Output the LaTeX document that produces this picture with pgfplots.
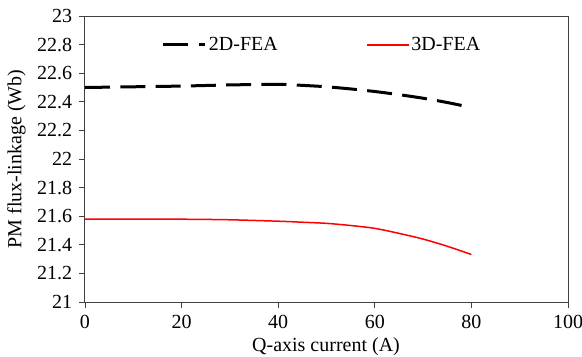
\documentclass[border=0pt]{standalone}
\usepackage{fontspec}
\setmainfont{Liberation Serif}
\usepackage{pgfplots}
\pgfplotsset{compat=1.18}
\definecolor{axisgray}{HTML}{404040}

\begin{document}
\fontsize{20bp}{24bp}\selectfont
\begin{tikzpicture}[x=1bp,y=1bp]
\useasboundingbox (-85,-54) rectangle (497,302);
\begin{axis}[
  at={(0,0)}, anchor=south west,
  width=483bp, height=286bp, scale only axis,
  xmin=0, xmax=100, ymin=21, ymax=23,
  xtick={0,20,40,60,80,100},
  ytick={21,21.2,21.4,21.6,21.8,22,22.2,22.4,22.6,22.8,23},
  yticklabel style={/pgf/number format/fixed,/pgf/number format/precision=1},
  /pgf/number format/assume math mode=true,
  tick align=outside, major tick length=6bp,
  tick style={color=axisgray, line width=0.8bp},
  axis line style={color=axisgray, line width=1bp},
  xtick pos=bottom, ytick pos=left,
  every axis x label/.style={at={(axis description cs:0.499,0)}, anchor=base, yshift=-49bp},
  every axis y label/.style={at={(axis description cs:-0.142,0.5)}, rotate=90, anchor=center},
  xlabel={Q-axis current (A)},
  ylabel={PM flux-linkage (Wb)},
  legend columns=2,
  legend cell align=left,
  legend style={draw=none, fill=none, inner sep=0pt,
    at={(axis description cs:0.159,0.8986)}, anchor=west,
    nodes={inner sep=2bp},
    /tikz/every even column/.append style={column sep=86bp}},
  legend image code/.code={\draw[#1] (0bp,0bp) -- (42bp,0bp);},
]
\addplot[black, line width=3bp, dash pattern=on 25bp off 10.3bp, smooth] coordinates {
  (0,22.500) (10,22.505) (20,22.510) (30,22.518) (40,22.522) (45,22.515)
  (50,22.505) (55,22.490) (60,22.472) (65,22.450) (70,22.425) (75,22.395)
  (80,22.360)
};
\addlegendentry{2D-FEA}
\addplot[red, line width=1.5bp, smooth] coordinates {
  (0,21.580) (10,21.580) (20,21.579) (30,21.575) (40,21.565) (45,21.558)
  (50,21.550) (55,21.535) (60,21.515) (65,21.480) (70,21.440) (75,21.390)
  (80,21.332)
};
\addlegendentry{3D-FEA}
\end{axis}
\end{tikzpicture}
\end{document}
